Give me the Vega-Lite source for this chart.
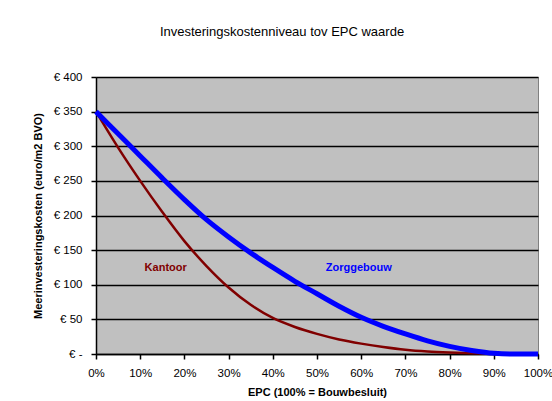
{
  "$schema": "https://vega.github.io/schema/vega-lite/v6.json",
  "width": 442,
  "height": 277,
  "autosize": "none",
  "padding": {"left": 96, "top": 77, "right": 14, "bottom": 47},
  "background": "white",
  "title": {
    "text": "Investeringskostenniveau tov EPC waarde",
    "font": "Liberation Sans",
    "fontSize": 13,
    "fontWeight": "normal",
    "color": "black",
    "anchor": "middle",
    "offset": 32,
    "dx": -35
  },
  "config": {
    "view": {"fill": "#C0C0C0", "stroke": "#808080", "strokeWidth": 1},
    "axis": {
      "labelFont": "Liberation Sans",
      "labelFontSize": 11.5,
      "labelColor": "black",
      "titleFont": "Liberation Sans",
      "titleFontSize": 11,
      "titleFontWeight": "bold",
      "titleColor": "black",
      "domainColor": "black",
      "tickColor": "black",
      "domainWidth": 1.5,
      "tickWidth": 1.5,
      "labelOverlap": false,
      "labelFlush": false
    }
  },
  "datasets": {
    "curves": [
      {"series": "Zorggebouw", "epc": 0, "value": 350},
      {"series": "Zorggebouw", "epc": 5, "value": 318},
      {"series": "Zorggebouw", "epc": 10, "value": 286},
      {"series": "Zorggebouw", "epc": 15, "value": 254},
      {"series": "Zorggebouw", "epc": 20, "value": 223},
      {"series": "Zorggebouw", "epc": 25, "value": 194},
      {"series": "Zorggebouw", "epc": 30, "value": 169},
      {"series": "Zorggebouw", "epc": 35, "value": 146},
      {"series": "Zorggebouw", "epc": 40, "value": 125},
      {"series": "Zorggebouw", "epc": 45, "value": 105},
      {"series": "Zorggebouw", "epc": 50, "value": 87},
      {"series": "Zorggebouw", "epc": 55, "value": 69},
      {"series": "Zorggebouw", "epc": 60, "value": 53},
      {"series": "Zorggebouw", "epc": 65, "value": 40},
      {"series": "Zorggebouw", "epc": 70, "value": 29},
      {"series": "Zorggebouw", "epc": 75, "value": 19},
      {"series": "Zorggebouw", "epc": 80, "value": 11},
      {"series": "Zorggebouw", "epc": 85, "value": 5},
      {"series": "Zorggebouw", "epc": 90, "value": 1},
      {"series": "Zorggebouw", "epc": 95, "value": 0},
      {"series": "Zorggebouw", "epc": 100, "value": 0},
      {"series": "Kantoor", "epc": 0, "value": 350},
      {"series": "Kantoor", "epc": 5, "value": 298},
      {"series": "Kantoor", "epc": 10, "value": 250},
      {"series": "Kantoor", "epc": 15, "value": 205},
      {"series": "Kantoor", "epc": 20, "value": 163},
      {"series": "Kantoor", "epc": 25, "value": 127},
      {"series": "Kantoor", "epc": 30, "value": 96},
      {"series": "Kantoor", "epc": 35, "value": 71},
      {"series": "Kantoor", "epc": 40, "value": 52},
      {"series": "Kantoor", "epc": 45, "value": 39},
      {"series": "Kantoor", "epc": 50, "value": 29},
      {"series": "Kantoor", "epc": 55, "value": 21},
      {"series": "Kantoor", "epc": 60, "value": 15},
      {"series": "Kantoor", "epc": 65, "value": 10},
      {"series": "Kantoor", "epc": 70, "value": 6},
      {"series": "Kantoor", "epc": 75, "value": 3.5},
      {"series": "Kantoor", "epc": 80, "value": 2},
      {"series": "Kantoor", "epc": 85, "value": 1},
      {"series": "Kantoor", "epc": 90, "value": 0.5},
      {"series": "Kantoor", "epc": 95, "value": 0.2},
      {"series": "Kantoor", "epc": 99, "value": 0}
    ],
    "labels": [
      {"series": "Kantoor", "epc": 11, "value": 124},
      {"series": "Zorggebouw", "epc": 52, "value": 124}
    ]
  },
  "encoding": {
    "x": {
      "field": "epc", "type": "quantitative",
      "scale": {"domain": [0, 100], "nice": false},
      "axis": {
        "title": "EPC (100% = Bouwbesluit)",
        "values": [0, 10, 20, 30, 40, 50, 60, 70, 80, 90, 100],
        "labelExpr": "datum.value + '%'",
        "grid": false,
        "tickSize": 5,
        "labelPadding": 8,
        "titlePadding": 8
      }
    },
    "y": {
      "field": "value", "type": "quantitative",
      "scale": {"domain": [0, 400], "nice": false},
      "axis": {
        "title": "Meerinvesteringskosten (euro/m2 BVO)",
        "values": [0, 50, 100, 150, 200, 250, 300, 350, 400],
        "tickCount": 9,
        "labelExpr": "datum.value === 0 ? '€ -' : '€ ' + datum.value",
        "grid": true,
        "gridColor": "black",
        "gridWidth": 1.5,
        "gridOpacity": 1,
        "tickSize": 5,
        "labelPadding": 9,
        "titlePadding": 10
      }
    }
  },
  "layer": [
    {
      "data": {"name": "curves"},
      "transform": [{"filter": "datum.series === 'Kantoor'"}],
      "mark": {"type": "line", "color": "#800000", "strokeWidth": 2.5, "interpolate": "monotone"}
    },
    {
      "data": {"name": "curves"},
      "transform": [{"filter": "datum.series === 'Zorggebouw'"}],
      "mark": {"type": "line", "color": "#0000FF", "strokeWidth": 5, "interpolate": "monotone"}
    },
    {
      "data": {"name": "labels"},
      "mark": {"type": "text", "align": "left", "baseline": "middle", "font": "Liberation Sans", "fontSize": 11, "fontWeight": "bold"},
      "encoding": {
        "text": {"field": "series"},
        "color": {
          "field": "series", "type": "nominal",
          "scale": {"domain": ["Kantoor", "Zorggebouw"], "range": ["#800000", "#0000FF"]},
          "legend": null
        }
      }
    }
  ]
}
